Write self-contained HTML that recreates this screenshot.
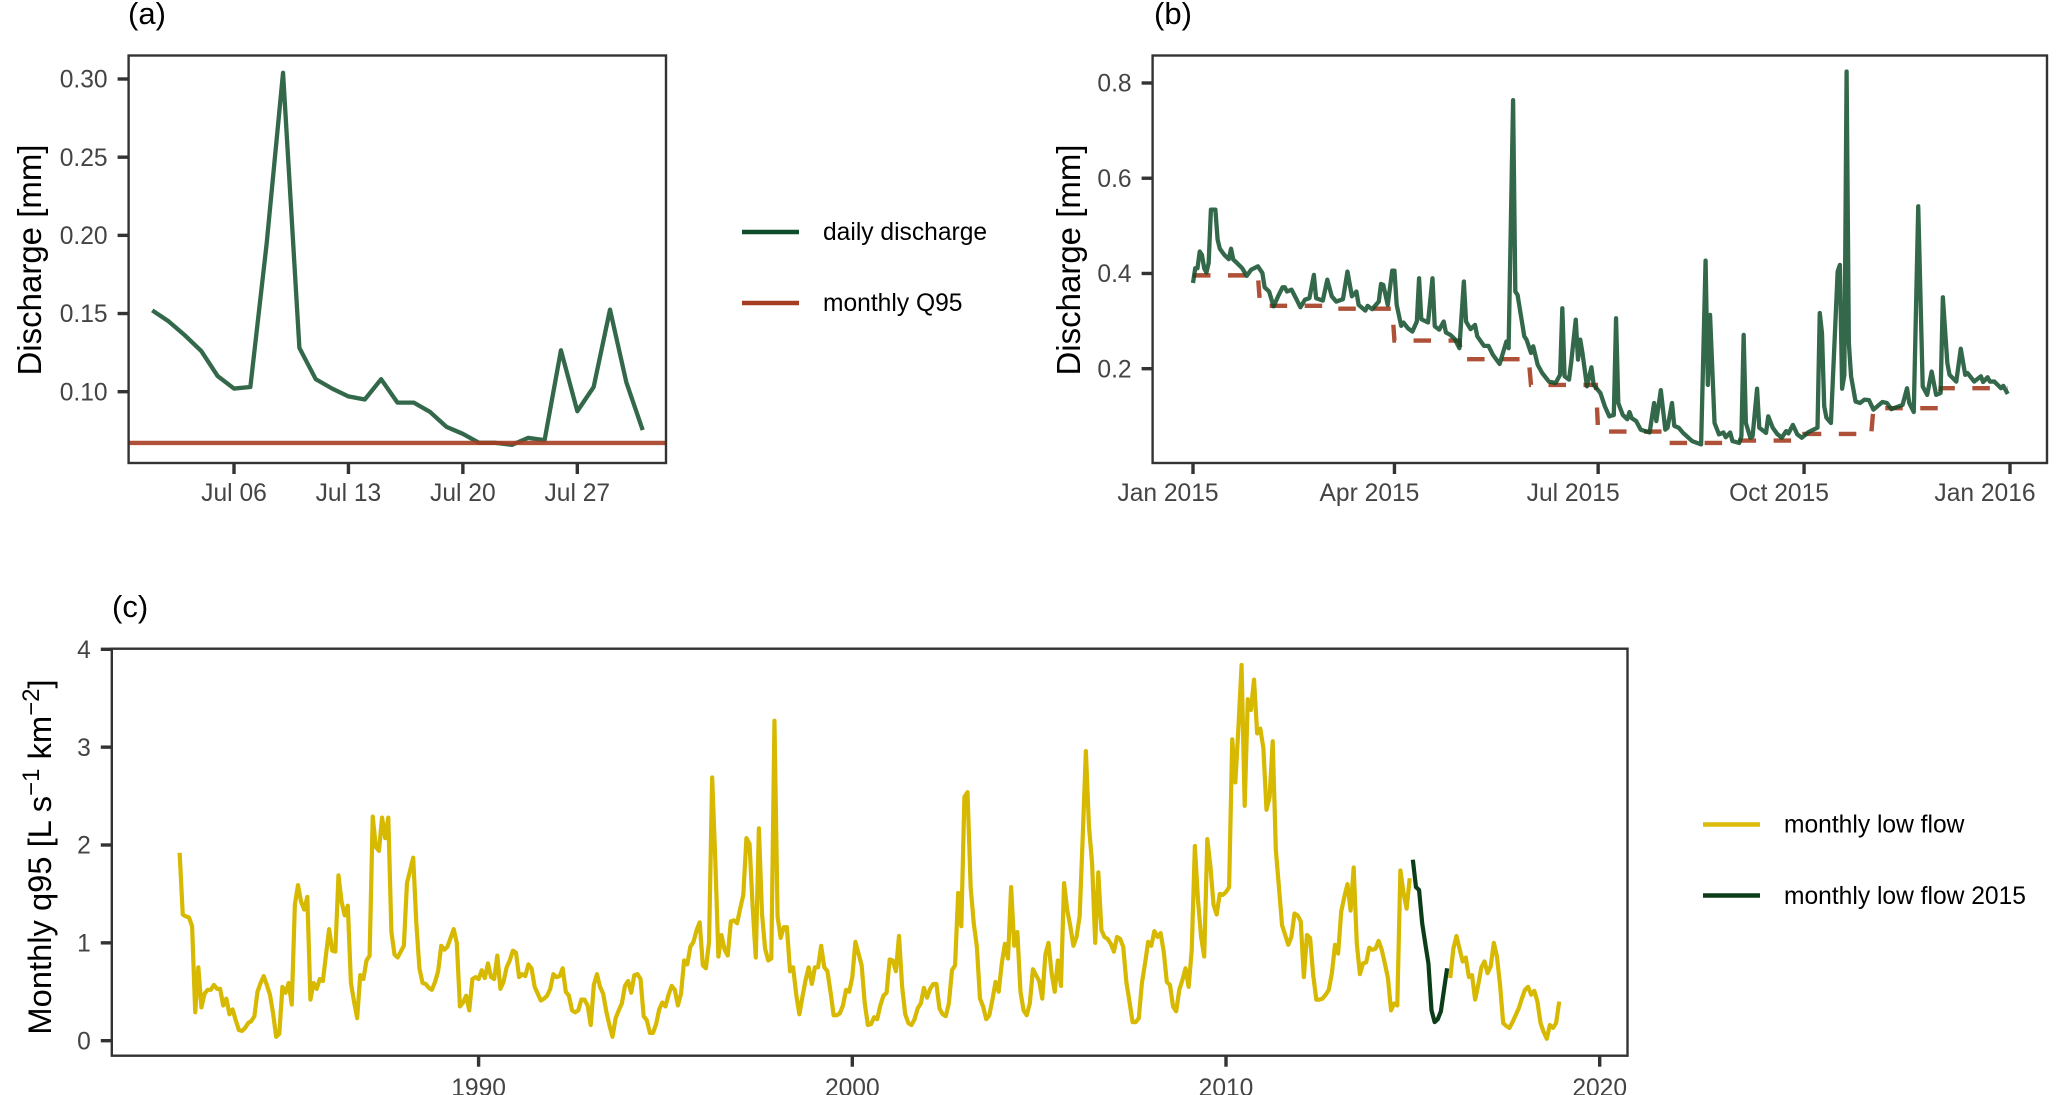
<!DOCTYPE html>
<html lang="en">
<head>
<meta charset="utf-8">
<title>Discharge and monthly low flow</title>
<style>
html,body{margin:0;padding:0;background:#fff;}
svg{display:block;font-family:"Liberation Sans",Arial,sans-serif;}
</style>
</head>
<body>
<svg id="chart" xmlns="http://www.w3.org/2000/svg" width="2067" height="1095" viewBox="0 0 2067 1095">
  <rect width="2067" height="1095" fill="#fff"/>
  <text x="128" y="24" font-size="31" fill="#000">(a)</text>
  <text x="1154" y="24" font-size="31" fill="#000">(b)</text>
  <text x="112" y="617" font-size="31" fill="#000">(c)</text>
  <text transform="translate(41,260) rotate(-90)" text-anchor="middle" font-size="33" fill="#000">Discharge [mm]</text>
  <text transform="translate(1080,260) rotate(-90)" text-anchor="middle" font-size="33" fill="#000">Discharge [mm]</text>
  <text transform="translate(51,857) rotate(-90)" text-anchor="middle" font-size="32.7" fill="#000">Monthly q95 [L s<tspan dy="-12" font-size="24">−1</tspan><tspan dy="12"> km</tspan><tspan dy="-12" font-size="24">−2</tspan><tspan dy="12">]</tspan></text>
  <g id="panel-a"></g>
  <g id="panel-b"></g>
  <g id="panel-c"></g>
  <g>
    <line x1="742" x2="799" y1="232" y2="232" stroke="#0f4d2a" stroke-width="4.4"/>
    <text x="823" y="240" font-size="24.6" fill="#000">daily discharge</text>
    <line x1="742" x2="799" y1="303" y2="303" stroke="#a63d22" stroke-width="4.4"/>
    <text x="823" y="311" font-size="24.6" fill="#000">monthly Q95</text>
  </g>
  <g>
    <line x1="1703" x2="1760" y1="824.5" y2="824.5" stroke="#dcbb0a" stroke-width="4.4"/>
    <text x="1784" y="832.5" font-size="24.6" fill="#000">monthly low flow</text>
    <line x1="1703" x2="1760" y1="895.5" y2="895.5" stroke="#0b3d18" stroke-width="4.4"/>
    <text x="1784" y="904" font-size="24.6" fill="#000">monthly low flow 2015</text>
  </g>
</svg>
<script>
// ---- Panel (a): July 2015 daily discharge ----
const julyDays = [1,2,3,4,5,6,7,8,9,10,11,12,13,14,15,16,17,18,19,20,21,22,23,24,25,26,27,28,29,30,31];
const julyDischarge = [0.152,0.145,0.136,0.126,0.110,0.102,0.103,0.195,0.304,0.128,0.108,0.102,0.097,0.095,0.108,0.093,0.093,0.087,0.0775,0.073,0.0673,0.0673,0.066,0.0705,0.069,0.1265,0.0875,0.103,0.1525,0.106,0.0755];
const julyQ95 = [0.0672];
const aYTicks = [0.10,0.15,0.20,0.25,0.30];
const aYTickLabels = ["0.10","0.15","0.20","0.25","0.30"];
const aXTicks = [6,13,20,27];
const aXTickLabels = ["Jul 06","Jul 13","Jul 20","Jul 27"];

// ---- Panel (b): 2015 daily discharge (day of year from 0) ----
const dailyDays = [0,1,2,3,4,5,6,7,8,10,11,12,14,16,17,18,19,22,24,26,29,31,32,34,36,38,40,41,42,44,46,48,50,52,54,55,58,60,62,64,67,69,71,73,74,77,78,80,83,84,85,87,89,90,91,93,94,96,98,100,101,102,105,107,108,110,112,113,115,117,119,121,122,124,126,127,130,132,134,137,140,141,143,144,145,148,149,151,152,154,156,159,162,164,165,166,168,169,171,172,173,174,176,178,179,182,184,186,188,189,190,192,194,195,196,198,200,204,206,207,209,211,212,214,215,217,219,223,227,229,230,231,233,235,237,238,240,241,244,245,246,247,249,250,252,253,256,257,259,261,263,265,266,268,270,272,275,279,280,281,282,283,285,288,289,290,291,292,293,294,296,298,300,302,304,308,310,312,317,319,320,322,324,326,328,330,332,334,335,337,338,341,343,345,346,349,352,353,355,356,358,361,362,364];
const dailyValues = [.380,.411,.411,.446,.439,.411,.402,.422,.534,.534,.471,.452,.439,.430,.452,.429,.425,.411,.395,.408,.415,.401,.371,.362,.331,.352,.371,.371,.362,.366,.348,.329,.345,.348,.397,.348,.343,.387,.352,.341,.346,.404,.352,.362,.334,.322,.332,.325,.341,.378,.376,.334,.406,.406,.334,.290,.297,.285,.278,.299,.390,.304,.297,.390,.289,.282,.299,.276,.271,.262,.243,.383,.299,.283,.292,.268,.248,.248,.229,.210,.257,.243,.764,.362,.355,.268,.261,.233,.247,.208,.191,.173,.170,.187,.327,.184,.177,.215,.303,.219,.261,.233,.163,.203,.166,.149,.121,.100,.103,.306,.128,.103,.094,.109,.096,.090,.072,.066,.128,.090,.155,.072,.076,.128,.080,.076,.065,.048,.041,.427,.166,.313,.086,.062,.066,.056,.066,.048,.044,.058,.271,.086,.055,.058,.158,.076,.065,.100,.076,.063,.055,.069,.064,.082,.062,.055,.067,.076,.317,.275,.121,.097,.086,.404,.418,.158,.187,.824,.254,.184,.131,.128,.135,.134,.114,.130,.128,.115,.124,.159,.128,.109,.541,.163,.145,.194,.145,.149,.350,.212,.187,.173,.242,.187,.191,.173,.184,.172,.182,.173,.173,.159,.164,.147];
const monthStartDays = [0,30,59,90,120,151,181,212,243,273,304,334];
const monthlyQ95 = [.396,.332,.326,.259,.220,.166,.068,.044,.049,.063,.117,.159];
const bYTicks = [0.2,0.4,0.6,0.8];
const bYTickLabels = ["0.2","0.4","0.6","0.8"];
const bXTicks = [0,90,181,273,365];
const bXTickLabels = ["Jan 2015","Apr 2015","Jul 2015","Oct 2015","Jan 2016"];

// ---- Panel (c): monthly q95 ----
const startYear = 1982;
const lowFlowUntil2014 = [
1.92,1.29,1.27,1.26,1.17,.29,.75,.34,.48,.52,.52,.57,
.53,.53,.36,.43,.27,.32,.21,.11,.10,.13,.18,.20,
.25,.50,.59,.66,.57,.47,.28,.04,.07,.55,.49,.59,
.37,1.39,1.59,1.42,1.34,1.47,.42,.59,.53,.63,.61,.88,
1.14,.92,.91,1.69,1.42,1.28,1.38,.59,.40,.23,.67,.63,
.82,.87,2.29,1.98,1.94,2.28,2.07,2.28,1.11,.88,.85,.91,
.97,1.61,1.74,1.87,1.20,.74,.59,.58,.54,.52,.60,.71,
.97,.93,.96,1.05,1.14,1.00,.35,.39,.46,.31,.63,.65,
.63,.72,.64,.79,.65,.63,.87,.53,.60,.75,.82,.92,
.90,.65,.68,.66,.78,.74,.55,.48,.41,.43,.46,.53,
.68,.65,.66,.74,.50,.46,.31,.29,.31,.42,.42,.36,
.16,.57,.68,.55,.48,.30,.16,.04,.23,.31,.38,.56,
.61,.49,.67,.68,.63,.25,.21,.08,.08,.17,.32,.39,
.35,.47,.56,.52,.36,.48,.82,.78,.96,1.01,1.13,1.21,
.77,.74,1.01,2.69,1.85,.86,1.08,.93,.87,1.22,1.23,1.20,
1.35,1.49,2.07,2.01,1.37,.85,2.17,1.30,.94,.82,.84,3.27,
1.27,1.05,1.16,1.16,.71,.75,.47,.27,.45,.62,.75,.58,
.75,.75,.97,.75,.71,.50,.26,.26,.28,.36,.52,.50,
.65,1.01,.89,.77,.38,.16,.17,.24,.22,.36,.46,.49,
.83,.82,.71,1.07,.55,.27,.18,.16,.22,.33,.38,.54,
.44,.53,.58,.58,.33,.27,.25,.38,.72,.77,1.51,1.17,
2.49,2.54,1.57,1.20,.96,.43,.35,.22,.26,.42,.60,.50,
.79,.99,.84,1.57,.97,1.11,.50,.31,.26,.38,.73,.67,
.61,.43,.88,1.00,.69,.50,.82,.56,1.61,1.34,1.17,.97,
1.06,1.27,2.09,2.96,2.19,1.81,1.00,1.72,1.13,1.06,1.04,.99,
.91,1.06,1.04,.96,.60,.40,.19,.19,.23,.59,.79,1.01,
.97,1.12,1.06,1.10,.91,.60,.57,.35,.30,.52,.62,.74,
.55,.93,1.99,1.44,1.06,.86,2.06,1.78,1.39,1.29,1.50,1.49,
1.52,1.57,3.08,2.64,3.21,3.84,2.40,3.49,3.38,3.69,3.14,3.19,
2.99,2.36,2.49,3.06,1.95,1.57,1.18,1.08,.98,1.06,1.30,1.28,
1.22,.65,1.08,1.05,.67,.42,.42,.43,.47,.52,.69,.98,
.89,1.32,1.47,1.60,1.33,1.77,.99,.68,.79,.80,.95,.93,
.94,1.02,.93,.79,.64,.31,.38,.36,1.74,1.51,1.35,1.66];
const lowFlow2015 = [1.85,1.57,1.54,1.20,.99,.79,.31,.19,.22,.30,.52,.74];
const lowFlowAfter2015 = [
.64,.94,1.07,.94,.81,.85,.65,.67,.42,.57,.75,.81,
.69,.76,1.00,.86,.57,.18,.15,.13,.19,.26,.33,.43,
.52,.55,.47,.51,.40,.18,.09,.02,.16,.13,.18,.40];
const cYTicks = [0,1,2,3,4];
const cYTickLabels = ["0","1","2","3","4"];
const cXTicks = [1990,2000,2010,2020];
const cXTickLabels = ["1990","2000","2010","2020"];

const SVGNS = "http://www.w3.org/2000/svg";
function make(parent, tag, attrs, text) {
  const el = document.createElementNS(SVGNS, tag);
  for (const k in attrs) el.setAttribute(k, attrs[k]);
  if (text !== undefined) el.textContent = text;
  parent.appendChild(el);
  return el;
}
function pathFrom(xs, ys, xFn, yFn) {
  return xs.map((x, i) => (i ? "L" : "M") + xFn(x).toFixed(2) + " " + yFn(ys[i]).toFixed(2)).join("");
}
function linear(d0, r0, d1, r1) {
  return v => r0 + (v - d0) * (r1 - r0) / (d1 - d0);
}
const FRAME = "#333333";
const TICKTEXT = "#444444";

function drawFrame(g, box) {
  const r = make(g, "rect", {x: box.l, y: box.t, width: box.r - box.l, height: box.b - box.t, fill: "none", stroke: FRAME, "stroke-width": 2.4});
  
  
}
function drawAxes(g, box, xTicks, xLabels, xFn, yTicks, yLabels, yFn, xLabelDx, xBase) {
  xTicks.forEach((t, i) => {
    const px = xFn(t);
    const tk = make(g, "line", {x1: px, x2: px, y1: box.b, y2: box.b + 11, stroke: FRAME, "stroke-width": 3.4});
    
    
    const lb = make(g, "text", {x: px + xLabelDx, y: xBase, "text-anchor": "middle", "font-size": 24.6, fill: TICKTEXT}, xLabels[i]);
    
    
  });
  yTicks.forEach((t, i) => {
    const py = yFn(t);
    const tk = make(g, "line", {x1: box.l - 11, x2: box.l, y1: py, y2: py, stroke: FRAME, "stroke-width": 3.4});
    
    
    const lb = make(g, "text", {x: box.l - 21, y: py + 8.7, "text-anchor": "end", "font-size": 24.6, fill: TICKTEXT}, yLabels[i]);
    
    
  });
}
function lineAttrs(d, color, width, extra) {
  return Object.assign({d: d, fill: "none", stroke: color, "stroke-width": width, "stroke-linejoin": "round", "stroke-linecap": "butt"}, extra || {});
}

// Panel (a)
(function () {
  const g = document.getElementById("panel-a");
  const box = {l: 128.6, r: 666, t: 55.5, b: 463};
  const x = linear(6, 234, 27, 577.3);
  const y = linear(0.10, 391.7, 0.30, 79);
  const daily = make(g, "path", lineAttrs(pathFrom(julyDays, julyDischarge, x, y), "#0f4d2a", 4.3, {"stroke-opacity": 0.85}));
  
  
  const q = make(g, "line", {x1: box.l, x2: box.r, y1: y(julyQ95[0]), y2: y(julyQ95[0]), stroke: "#a63d22", "stroke-width": 4.4, "stroke-opacity": 0.9});
  
  
  drawAxes(g, box, aXTicks, aXTickLabels, x, aYTicks, aYTickLabels, y, 0, 501);
  drawFrame(g, box);
})();

// Panel (b)
(function () {
  const g = document.getElementById("panel-b");
  const box = {l: 1152.6, r: 2047, t: 55.5, b: 463};
  const x = linear(0, 1193, 365, 2010);
  const y = linear(0.2, 368.7, 0.8, 83);
  const stepDays = [], stepVals = [];
  monthStartDays.forEach((d, i) => {
    const next = i + 1 < monthStartDays.length ? monthStartDays[i + 1] - 1 : 364;
    stepDays.push(d, next);
    stepVals.push(monthlyQ95[i], monthlyQ95[i]);
  });
  const q = make(g, "path", lineAttrs(pathFrom(stepDays, stepVals, x, y), "#a63d22", 4.4, {"stroke-opacity": 0.9, "stroke-dasharray": "17.5 17.5", "stroke-linejoin": "miter"}));
  
  
  const daily = make(g, "path", lineAttrs(pathFrom(dailyDays, dailyValues, x, y), "#0f4d2a", 4.3, {"stroke-opacity": 0.85}));
  
  
  drawAxes(g, box, bXTicks, bXTickLabels, x, bYTicks, bYTickLabels, y, -25, 501);
  drawFrame(g, box);
})();

// Panel (c)
(function () {
  const g = document.getElementById("panel-c");
  const box = {l: 111.8, r: 1627.5, t: 648.7, b: 1055.7};
  const x = linear(1990, 478.6, 2020, 1599.7);
  const y = linear(0, 1040.7, 4, 649.3);
  const t = (start, n) => Array.from({length: n}, (_, i) => start + i / 12);
  const a = lowFlowUntil2014, b = lowFlow2015, c = lowFlowAfter2015;
  const t2015 = startYear + a.length / 12;
  const tAfter = t2015 + b.length / 12;
  const p1 = make(g, "path", lineAttrs(pathFrom(t(startYear, a.length), a, x, y), "#d6b900", 4.2));
  
  
  const p3 = make(g, "path", lineAttrs(pathFrom(t(tAfter, c.length), c, x, y), "#d6b900", 4.2));
  
  
  const p2 = make(g, "path", lineAttrs(pathFrom(t(t2015, b.length), b, x, y), "#0b3d18", 4.2));
  
  
  drawAxes(g, box, cXTicks, cXTickLabels, x, cYTicks, cYTickLabels, y, 0, 1096);
  drawFrame(g, box);
})();
</script>
</body>
</html>
